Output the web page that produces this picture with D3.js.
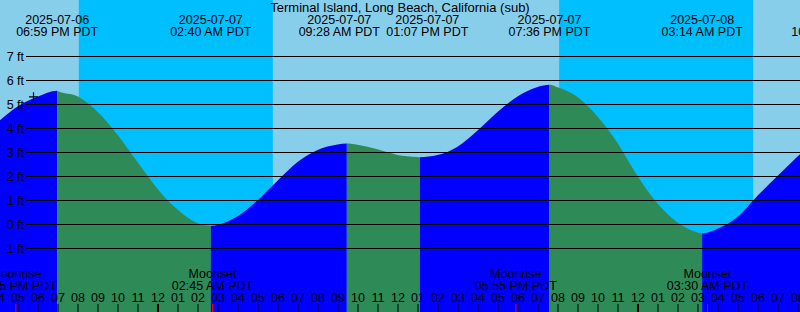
<!DOCTYPE html>
<html>
<head>
<meta charset="utf-8">
<script src="https://cdn.jsdelivr.net/npm/d3@7"></script>
<style>
    body { margin: 0; background: #87ceeb; }
    svg { display: block; font-family: "Liberation Sans", Arial, sans-serif; }
</style>
</head>
<body>
<svg id="chart" width="800" height="312"></svg>
<script>
// station + data, times are local PDT wall clock
const title = "Terminal Island, Long Beach, California (sub)";
const levelTicks = [-1, 0, 1, 2, 3, 4, 5, 6, 7];

// hourly water level (ft), from 2025-07-06 16:00 on
const hourlyStart = "2025-07-06T16:00";
const hourlyLevels = [
    4.23, 4.9, 5.3, 5.54, 5.32, 4.68, 3.72, 2.58,
    1.46, 0.6, 0.03, -0.04, 0.32, 0.98, 1.8, 2.58,
    3.08, 3.31, 3.3, 3.11, 2.88, 2.79, 2.87, 3.22,
    3.9, 4.67, 5.31, 5.71, 5.7, 5.29, 4.48, 3.38,
    2.0, 0.85, 0.06, -0.35, -0.2, 0.29, 1.18, 2.0,
    2.81, 3.6
];

// high / low tides
const eventTimes = ["2025-07-06T18:59", "2025-07-07T02:40", "2025-07-07T09:28", "2025-07-07T13:07",
                    "2025-07-07T19:36", "2025-07-08T03:14", "2025-07-08T10:05"];
const eventLevels = [5.55, -0.08, 3.35, 2.78, 5.8, -0.39, 5.0];
const eventTypes = ["H", "L", "H", "L", "H", "L", "H"];

// night = sunset -> sunrise
const sunsets = ["2025-07-06T20:04", "2025-07-07T20:05"];
const sunrises = ["2025-07-07T05:46", "2025-07-08T05:47"];

const moonTimes = ["2025-07-06T16:55", "2025-07-07T02:45", "2025-07-07T17:55", "2025-07-08T03:30"];
const moonNames = ["Moonrise", "Moonset", "Moonrise", "Moonset"];

// mark on the curve
const markTime = "2025-07-06T17:48";
const markLevel = 5.3;

const parse = d3.utcParse("%Y-%m-%dT%H:%M");
const fmtDate = d3.utcFormat("%Y-%m-%d");
const fmtTime = d3.utcFormat("%I:%M %p PDT");

const width = 800, height = 312;
const svg = d3.select("#chart");

const x = d3.scaleUtc()
    .domain([new Date(Date.UTC(2025, 6, 6, 16, 7, 30)), new Date(Date.UTC(2025, 6, 8, 8, 7, 30))])
    .range([0, width]);
const y = d3.scaleLinear().domain([-1, 7]).range([248, 56]);

// background: day light blue, night deeper blue
svg.append("rect").attr("width", width).attr("height", height).attr("fill", "#87ceeb");
svg.selectAll(".night")
    .data(sunsets.map((s, i) => [parse(s), parse(sunrises[i])]))
    .enter().append("rect")
    .attr("class", "night")
    .attr("x", d => x(d[0]))
    .attr("width", d => x(d[1]) - x(d[0]))
    .attr("y", 0)
    .attr("height", height)
    .attr("fill", "#00bfff");

// curve points = hourly values + extremes
const t0 = parse(hourlyStart);
let points = hourlyLevels.map((v, i) => ({ t: d3.utcHour.offset(t0, i), v: v }));
eventTimes.forEach((s, i) => points.push({ t: parse(s), v: eventLevels[i] }));
points.sort((a, b) => a.t - b.t);

const area = d3.area()
    .x(d => x(d.t))
    .y0(height)
    .y1(d => y(d.v))
    .curve(d3.curveMonotoneX);

// rising = blue, falling = green; split at each extreme
const defs = svg.append("defs");
eventTimes.forEach((s, i) => {
    const start = i === 0 ? x.domain()[0] : parse(eventTimes[i - 1]);
    const end = parse(s);
    defs.append("clipPath").attr("id", "seg" + i)
        .append("rect")
        .attr("x", x(start))
        .attr("width", x(end) - x(start))
        .attr("y", 0)
        .attr("height", height);
    svg.append("path")
        .datum(points)
        .attr("clip-path", `url(#seg${i})`)
        .attr("d", area)
        .attr("fill", eventTypes[i] === "H" ? "#0000ff" : "#2e8b57");
});

// level grid + labels
const yAxis = svg.append("g")
    .attr("transform", "translate(26,0)")
    .call(d3.axisLeft(y).tickValues(levelTicks).tickSize(-(width - 26)).tickPadding(2)
        .tickFormat(d => d + " ft"));
yAxis.select(".domain").remove();
yAxis.attr("font-family", null).attr("font-size", null);
yAxis.selectAll("line").attr("stroke", "#000").attr("stroke-width", 1);
yAxis.selectAll("text").attr("font-size", "12.5px").attr("fill", "#000");

// small cross
const mx = x(parse(markTime)), my = y(markLevel);
svg.append("path")
    .attr("d", `M${mx - 4.5},${my}H${mx + 4.5}M${mx},${my - 4.5}V${my + 4.5}`)
    .attr("stroke", "#000").attr("stroke-width", 1.2);

// title + tide event labels
svg.append("text")
    .attr("x", width / 2).attr("y", 12)
    .attr("text-anchor", "middle")
    .attr("font-size", "13px")
    .text(title);

// push overlapping labels apart
let labelX = eventTimes.map(s => x(parse(s)));
const minGap = 88;
for (let i = 1; i < labelX.length; i++) {
    const gap = labelX[i] - labelX[i - 1];
    if (gap < minGap) {
        labelX[i - 1] -= (minGap - gap) / 2;
        labelX[i] += (minGap - gap) / 2;
    }
}
// labels past the right edge are held close to it
labelX = labelX.map(v => Math.min(v, width + 32));

const ev = svg.selectAll(".ev")
    .data(eventTimes)
    .enter().append("text")
    .attr("class", "ev")
    .attr("text-anchor", "middle")
    .attr("font-size", "12.5px");
ev.append("tspan").attr("x", (d, i) => labelX[i]).attr("y", 24).text(d => fmtDate(parse(d)));
ev.append("tspan").attr("x", (d, i) => labelX[i]).attr("y", 35.7).text(d => fmtTime(parse(d)));

// moon labels
const moon = svg.selectAll(".moon")
    .data(moonTimes)
    .enter().append("text")
    .attr("class", "moon")
    .attr("text-anchor", "middle")
    .attr("font-size", "12.5px");
moon.append("tspan").attr("x", d => x(parse(d))).attr("y", 278).text((d, i) => moonNames[i]);
moon.append("tspan").attr("x", d => x(parse(d))).attr("y", 289.5).text(d => fmtTime(parse(d)));

// hour axis along the bottom
const hours = d3.utcHour.range(t0, x.domain()[1]);
const xAxis = svg.append("g")
    .attr("transform", `translate(0,${height})`)
    .call(d3.axisTop(x).tickValues(hours).tickSize(8).tickPadding(2).tickFormat(d3.utcFormat("%I")));
xAxis.select(".domain").remove();
xAxis.attr("font-family", null).attr("font-size", null);
xAxis.selectAll("text").attr("font-size", "12.5px").attr("fill", "#000");
xAxis.selectAll(".tick line")
    .attr("stroke", "#000")
    .attr("stroke-width", d => d.getUTCHours() === 0 ? 2 : 1);

svg.selectAll(".moontick")
    .data(moonTimes)
    .enter().append("line")
    .attr("class", "moontick")
    .attr("x1", d => x(parse(d)))
    .attr("x2", d => x(parse(d)))
    .attr("y1", height - 8)
    .attr("y2", height)
    .attr("stroke", "#ff0000");
</script>
</body>
</html>
